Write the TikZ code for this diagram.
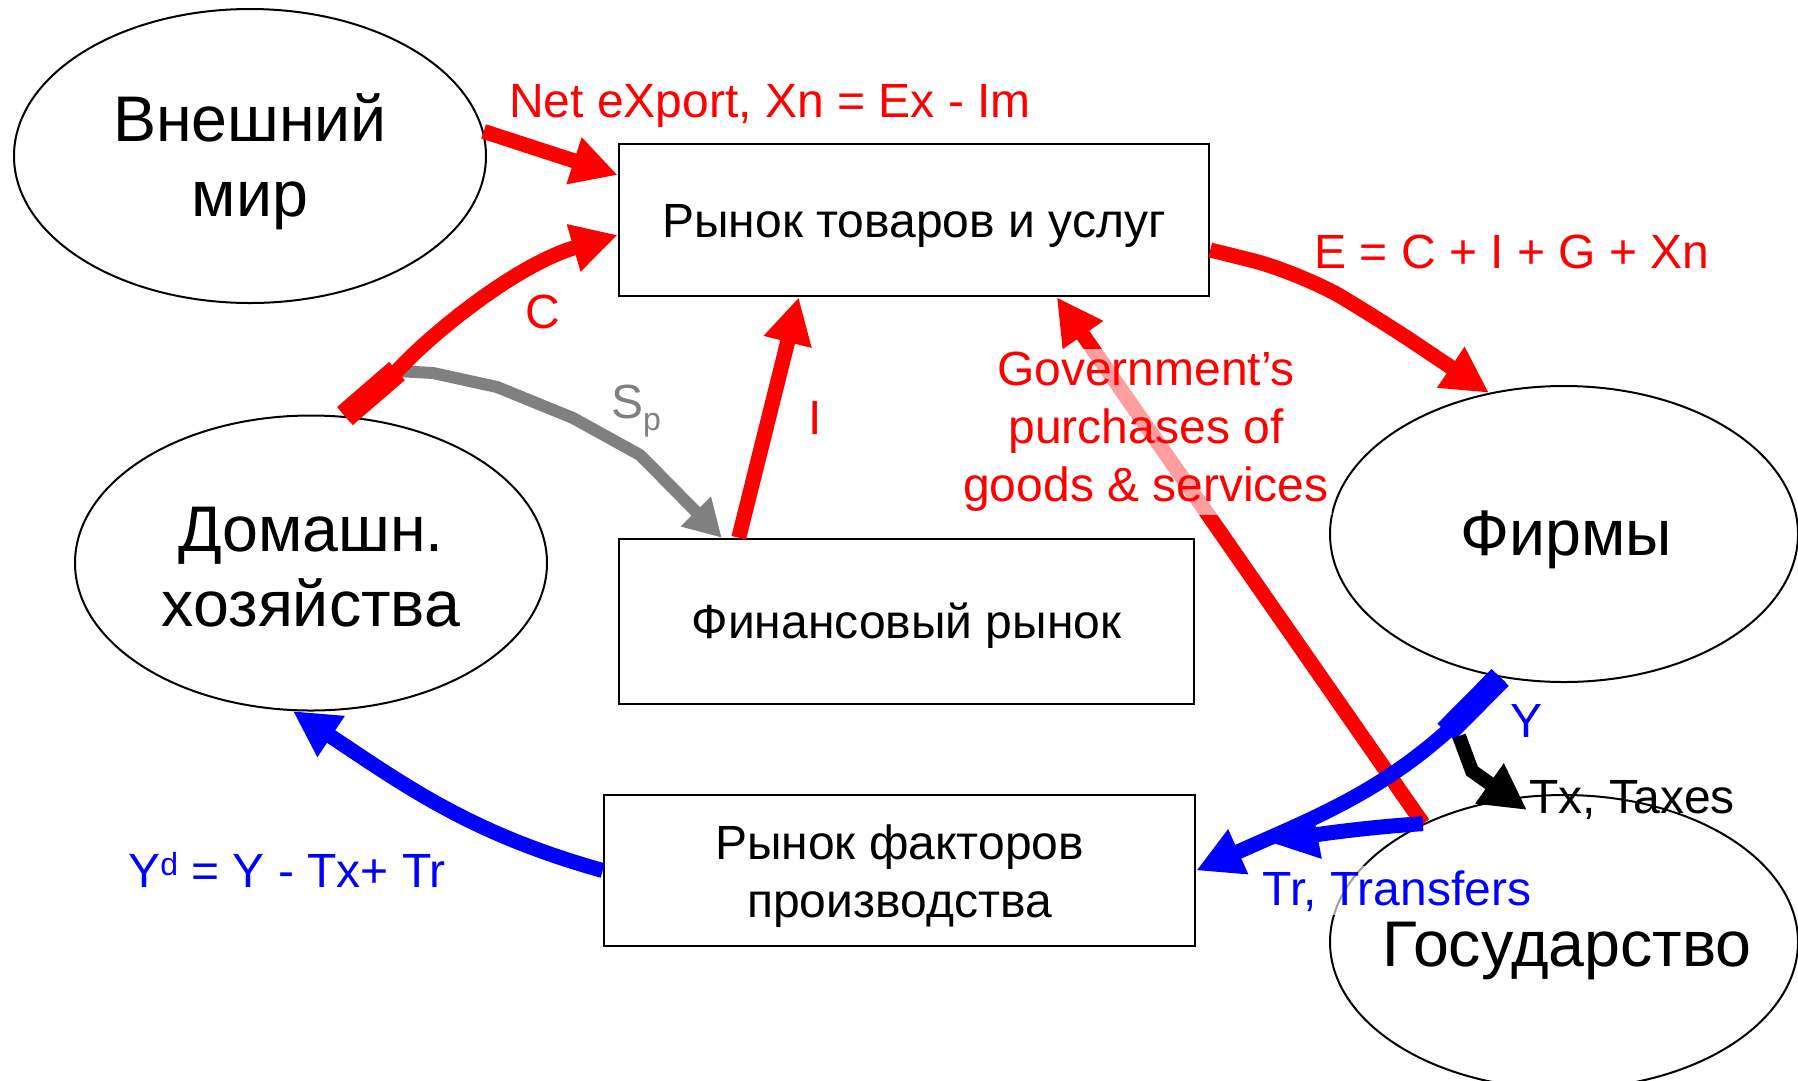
\documentclass[tikz,border=0pt]{standalone}
\usepackage{fontspec}
\setmainfont{Liberation Sans}
\usetikzlibrary{arrows.meta,shapes.geometric}
\begin{document}
\begin{tikzpicture}[x=1pt,y=-1pt,
  oval/.style={draw, line width=2pt, ellipse, inner sep=0pt},
  box/.style={draw, line width=2.5pt, rectangle, inner sep=0pt, align=center, font=\fontsize{48}{58}\selectfont},
  big/.style={font=\fontsize{64.5}{75}\selectfont, align=center, inner sep=0pt},
  lbl/.style={font=\fontsize{48}{58}\selectfont, inner sep=0pt, anchor=base},
  head/.style={-{Triangle[length=46pt,width=46pt]}},
  redarr/.style={draw=red, line width=15pt, head},
  bluearr/.style={draw=blue, line width=15pt, head},
  grayarr/.style={draw=gray, line width=12pt, -{Triangle[length=37pt,width=40pt]}},
  blackarr/.style={draw=black, line width=14pt, head},
  veil/.style={fill=white, fill opacity=0.62, text opacity=1},
]
\fill[white] (0,0) rectangle (1798,1080);
\useasboundingbox (0,0) rectangle (1798,1080);

% ellipses
\node[oval, minimum width=472pt, minimum height=294pt] (world) at (250,156) {};
\node[oval, minimum width=472pt, minimum height=295pt] (hh) at (311,563) {};
\node[oval, minimum width=468pt, minimum height=296pt] (firms) at (1564,534) {};
\node[oval, minimum width=468pt, minimum height=294pt] (gov) at (1564,942) {};

\node[big] (worldtext) at (250,162) {Внешний\\мир};
\node[big] (hhtext) at (311,567) {Домашн.\\хозяйства};
\node[big, anchor=base] (firmstext) at (1566,555) {Фирмы};
\node[big, anchor=base] (govtext) at (1567,966) {Государство};

% boxes
\node[box, minimum width=590pt, minimum height=152pt] (goods) at (914,220) {\rule{0pt}{45pt}Рынок товаров и услуг};
\node[box, minimum width=575pt, minimum height=165pt] (fin) at (906.5,621.5) {\rule{0pt}{43pt}Финансовый рынок};
\node[box, minimum width=591pt, minimum height=151pt] (fact) at (899.5,870.5) {\rule{0pt}{45pt}Рынок факторов\\производства};

% helper coordinates
\coordinate (spstart) at (397,371);
\coordinate (ythick) at (1446,732);
\coordinate (txfork) at (1459,736);
\coordinate (txtip) at (1527,810);
\coordinate (trtip) at (1272,843);

% gray S_p
\draw[grayarr] (spstart) -- (433,373) -- (497,387) -- (573,418) -- (640,455) -- ([xshift=104pt]fin.north west);

% red arrows
\draw[redarr] (world.6) -- ([yshift=45pt]goods.west);
\draw[red, line width=24pt] (hh.77) -- (spstart);
\draw[redarr, line join=round] (hh.77) -- (spstart) .. controls (430,335) and (515,265) .. ([yshift=-15pt]goods.west);
\draw[redarr] ([xshift=121pt]fin.north west) -- ([xshift=181pt]goods.south west);
\draw[redarr, rounded corners=50pt] ([yshift=-30pt]goods.east) -- (1299,272) -- (1376,317) -- (firms.118);
\draw[redarr] (gov.140) -- ([xshift=439pt]goods.south west);

% blue arrows
\draw[blue, line width=24pt] (firms.246) -- (ythick);
\draw[bluearr] (firms.246) .. controls (1408,783) and (1327,812) .. (fact.east);
\draw[bluearr] (gov.140) .. controls (1370,827) and (1320,834) .. (trtip);
\draw[bluearr] (fact.west) .. controls (472,834) and (407,787) .. (hh.263);

% black taxes arrow
\draw[blackarr] (txfork) -- (1472,771) -- (txtip);

% labels
\node[lbl, text=red] (netx) at (770,117) {Net eXport, Xn = Ex - Im};
\node[lbl, text=red] (elbl) at (1512,268) {E = C + I + G + Xn};
\node[lbl, text=red] (clbl) at (543,328) {C};
\node[lbl, text=gray] (splbl) at (636,418) {S\raisebox{-12pt}{\fontsize{32}{32}\selectfont p}};
\node[lbl, text=red] (ilbl) at (815,434) {I};
\node[lbl, text=red, anchor=center, align=center, veil, inner sep=3pt] (govlbl) at (1146,432) {Government’s\\purchases of\\goods \& services};
\node[lbl, text=blue] (ylbl) at (1526,737) {Y};
\node[lbl, text=black] (txlbl) at (1632,813) {Tx, Taxes};
\node[lbl, text=blue, veil, inner sep=4pt] (trlbl) at (1397,905) {Tr, Transfers};
\node[lbl, text=blue] (ydlbl) at (287,887) {Y\raisebox{12pt}{\fontsize{32}{32}\selectfont d} = Y - Tx+ Tr};
\end{tikzpicture}
\end{document}
